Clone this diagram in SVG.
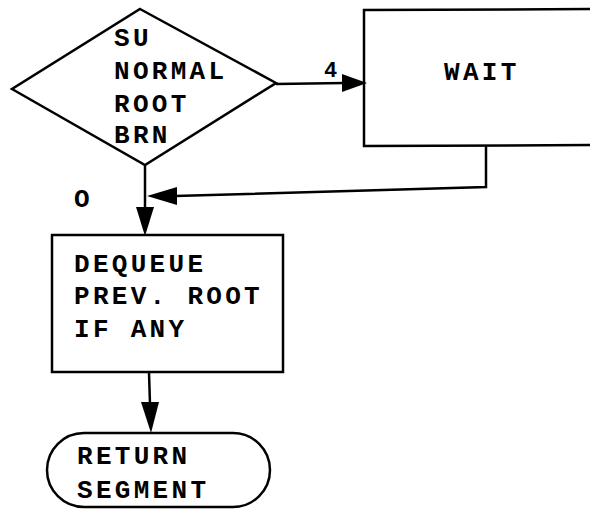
<svg xmlns="http://www.w3.org/2000/svg" width="590" height="512" viewBox="0 0 590 512">
<style>
.s{fill:none;stroke:#000;stroke-width:2.5;stroke-linejoin:miter}
.a{fill:#000;stroke:none}
text{font-family:"Liberation Mono","DejaVu Sans Mono",monospace;font-weight:bold;font-size:26px;fill:#000;letter-spacing:3.3px}
</style>
<rect width="590" height="512" fill="#fff"/>
<g id="decision">
<polygon class="s" points="140,9 276,83 145,165 12,89"/>
<text x="114" y="46">SU</text>
<text x="114" y="79">NORMAL</text>
<text x="114" y="112">ROOT</text>
<text x="114" y="143">BRN</text>
</g>
<g id="wait">
<path class="s" d="M600,9 L364,10 L364,146 L600,145"/>
<text x="444" y="80">WAIT</text>
</g>
<g id="dequeue">
<rect class="s" x="52" y="235" width="231" height="137"/>
<text x="74" y="272">DEQUEUE</text>
<text x="74" y="304">PREV. ROOT</text>
<text x="74" y="337">IF ANY</text>
</g>
<g id="return">
<rect class="s" x="47" y="433" width="223" height="74" rx="37" ry="37"/>
<text x="77" y="464">RETURN</text>
<text x="77" y="498">SEGMENT</text>
</g>
<g id="connectors">
<line class="s" x1="276" y1="84" x2="345" y2="83"/>
<polygon class="a" points="342,74 367,83 342,92"/>
<text x="324" y="77" style="font-size:22px;letter-spacing:0">4</text>
<polyline class="s" points="486,146 486,187 175,196"/>
<polygon class="a" points="147,196 177,187 177,205"/>
<line class="s" x1="145" y1="165" x2="145" y2="212"/>
<polygon class="a" points="136,207 154,207 145,236"/>
<text x="74" y="207" style="letter-spacing:0">O</text>
<line class="s" x1="149" y1="372" x2="150" y2="405"/>
<polygon class="a" points="141,402 159,402 151,433"/>
</g>
</svg>
